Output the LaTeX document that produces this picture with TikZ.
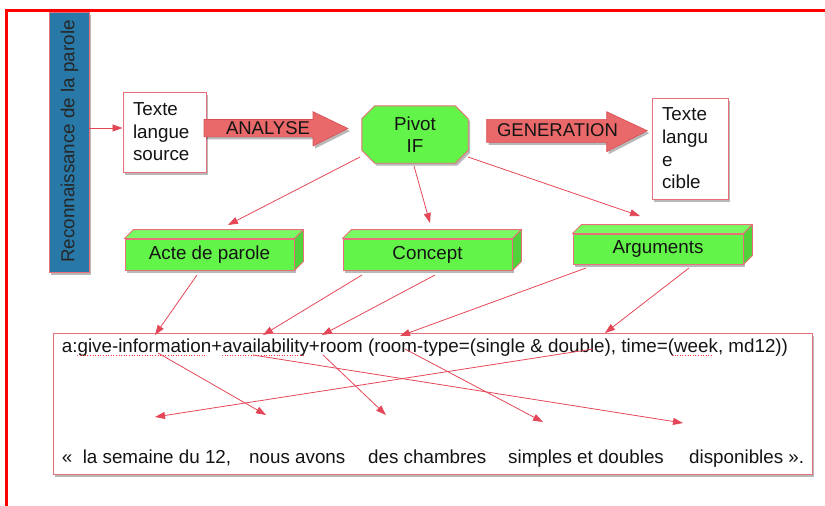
\documentclass[tikz,border=0pt]{standalone}
\usepackage{fontspec}
\setmainfont{Liberation Sans}
\usetikzlibrary{arrows.meta,shadows,calc,decorations.pathmorphing}
\definecolor{frame}{RGB}{255,0,0}
\definecolor{conn}{RGB}{228,72,88}
\definecolor{pinkb}{RGB}{232,112,122}
\definecolor{gfront}{RGB}{98,244,72}
\definecolor{gtop}{RGB}{122,250,98}
\definecolor{gside}{RGB}{80,210,58}
\definecolor{bluebar}{RGB}{40,121,168}
\definecolor{arrfill}{RGB}{233,104,106}
\definecolor{arrdraw}{RGB}{215,80,85}
\begin{document}
\begin{tikzpicture}[x=1pt,y=-1pt,
  lbl/.style={font=\fontsize{18.8}{22.6}\selectfont, text=black!92},
  conn/.style={draw=conn, line width=0.8pt, -{Triangle[length=10pt,width=7pt]}},
  shad/.style={drop shadow={shadow xshift=2pt, shadow yshift=-2.5pt, opacity=0.28, fill=black}},
  txtbox/.style={lbl, draw=pinkb, fill=white, line width=0.9pt, shad, align=left, inner xsep=10pt, inner ysep=0pt},
  gbox/.style={lbl, draw=pinkb, fill=gfront, line width=0.9pt, shad, inner sep=0pt},
  gface/.style={draw=pinkb, line width=0.9pt, line join=round},
  bigarrow/.style={fill=arrfill, draw=arrdraw, line width=0.6pt, shad},
  spell/.style={draw=red!80, line width=0.6pt, dotted},
  plain/.style={lbl, inner sep=0pt}
]
\useasboundingbox (0,0) rectangle (825,506);
% outer frame
\draw[frame, line width=3.3pt] (825,10.7) -- (6.7,10.7) -- (6.7,506);

% blue bar
\node[draw=pinkb, fill=bluebar, line width=0.8pt, shad, minimum width=40pt, minimum height=260pt, inner sep=0pt] (bar) at (69,142) {};
\node[plain, rotate=90, font=\fontsize{18.8}{22}\selectfont, text=black!85] (bartxt) at (69.5,141.5) {Reconnaissance de la parole};

% Texte langue source
\node[txtbox, text width=63pt, minimum height=80pt] (src) at (164.5,132)
  {Texte\\ langue\\ source};

% Texte langue cible
\node[txtbox, text width=56pt, minimum height=101pt] (cible) at (690,148.5)
  {Texte\\ langu\\ e\\ cible};

% ANALYSE arrow
\draw[bigarrow] (204,119.5) coordinate (anaL) -- (313,119.5) -- (313,111.7) -- (348,128.5) coordinate (anaTip)
   -- (313,146) -- (313,136.8) -- (204,136.8) -- cycle;
\node[plain, font=\fontsize{18.5}{20}\selectfont] (analyse) at (268,128.5) {ANALYSE};

% GENERATION arrow
\draw[bigarrow] (486.7,119.3) coordinate (genL) -- (606.7,119.3) -- (606.7,111.7) -- (647.3,130.7) coordinate (genTip)
   -- (606.7,151.7) -- (606.7,142.3) -- (486.7,142.3) -- cycle;
\node[plain, font=\fontsize{18.5}{20}\selectfont] (generation) at (557.5,130.5) {GENERATION};

% Pivot octagon
\node[minimum width=106pt, minimum height=57pt, inner sep=0pt] (pivot) at (415,134.5) {};
\draw[fill=gfront, draw=pinkb, line width=0.9pt, shad]
  ([xshift=13pt]pivot.north west) -- ([xshift=-13pt]pivot.north east)
  -- ([yshift=-13pt]pivot.north east) -- ([yshift=13pt]pivot.south east)
  -- ([xshift=-13pt]pivot.south east) -- ([xshift=13pt]pivot.south west)
  -- ([yshift=13pt]pivot.south west) -- ([yshift=-13pt]pivot.north west) -- cycle;
\node[plain, align=center] (pivottxt) at (pivot.center) {Pivot\\ IF};

% green 3D boxes
\foreach \n/\x/\y/\w/\h/\t in {acte/209.5/254.5/169/31/Acte de parole, concept/427.5/254.5/169/31/Concept, args/658/249/170/30/Arguments}{
  \node[gbox, minimum width=\w pt, minimum height=\h pt] (\n) at (\x,\y) {\t};
  \draw[gface, fill=gtop] (\n.north west) -- ++(9,-9) -- ([shift={(9,-9)}]\n.north east) -- (\n.north east) -- cycle;
  \draw[gface, fill=gside] (\n.north east) -- ++(9,-9) -- ([shift={(9,-9)}]\n.south east) -- (\n.south east) -- cycle;
}

% bottom box
\node[draw=pinkb, fill=white, line width=0.9pt, shad, minimum width=759pt, minimum height=141pt, inner sep=0pt] (ifbox) at (432.5,403.5) {};
\node[plain, anchor=base west] (ifline) at (61.7,352) {a:give-information+availability+room (room-type=(single \& double), time=(week, md12))};
\draw[spell] (77,355) -- (207,355);
\draw[spell] (222,355) -- (305,355);
\draw[spell] (672,355) -- (713,355);

\node[plain, anchor=base west] (w1) at (61.7,463.3) {«\ \ la semaine du 12,};
\node[plain, anchor=base west] (w2) at (249,463.3) {nous avons};
\node[plain, anchor=base west] (w3) at (368,463.3) {des chambres};
\node[plain, anchor=base west] (w4) at (508,463.3) {simples et doubles};
\node[plain, anchor=base west] (w5) at (689,463.3) {disponibles ».};

% connector points
\coordinate (pA) at (360,157); \coordinate (tA) at (228,225);
\coordinate (pC) at (414,166); \coordinate (tC) at (430,223);
\coordinate (pG) at (468,157); \coordinate (tG) at (640,216);

\coordinate (aOut) at (197,275);  \coordinate (iA) at (155,335);
\coordinate (cOut1) at (362,275); \coordinate (iC1) at (263,335);
\coordinate (cOut2) at (435,275); \coordinate (iC2) at (322,335);
\coordinate (gOut1) at (586,268); \coordinate (iG1) at (400,336);
\coordinate (gOut2) at (689,268); \coordinate (iG2) at (605,333);

\coordinate (sGive) at (158,353);   \coordinate (tNous) at (266,415);
\coordinate (sAvail) at (253,355);  \coordinate (tDispo) at (683,423);
\coordinate (sRoom) at (323,355);   \coordinate (tChamb) at (386,415);
\coordinate (sDouble) at (593,349); \coordinate (tSem) at (155,417);
\coordinate (sType) at (405,349);   \coordinate (tSimp) at (543,422);

% connectors
\draw[conn] (bar.east |- 0,128) -- (src.west |- 0,128);
\draw[conn] (pA) -- (tA);
\draw[conn] (pC) -- (tC);
\draw[conn] (pG) -- (tG);
\draw[conn] (aOut) -- (iA);
\draw[conn] (cOut1) -- (iC1);
\draw[conn] (cOut2) -- (iC2);
\draw[conn] (gOut1) -- (iG1);
\draw[conn] (gOut2) -- (iG2);
\draw[conn] (sGive) -- (tNous);
\draw[conn] (sAvail) -- (tDispo);
\draw[conn] (sRoom) -- (tChamb);
\draw[conn] (sDouble) -- (tSem);
\draw[conn] (sType) -- (tSimp);
\end{tikzpicture}
\end{document}
